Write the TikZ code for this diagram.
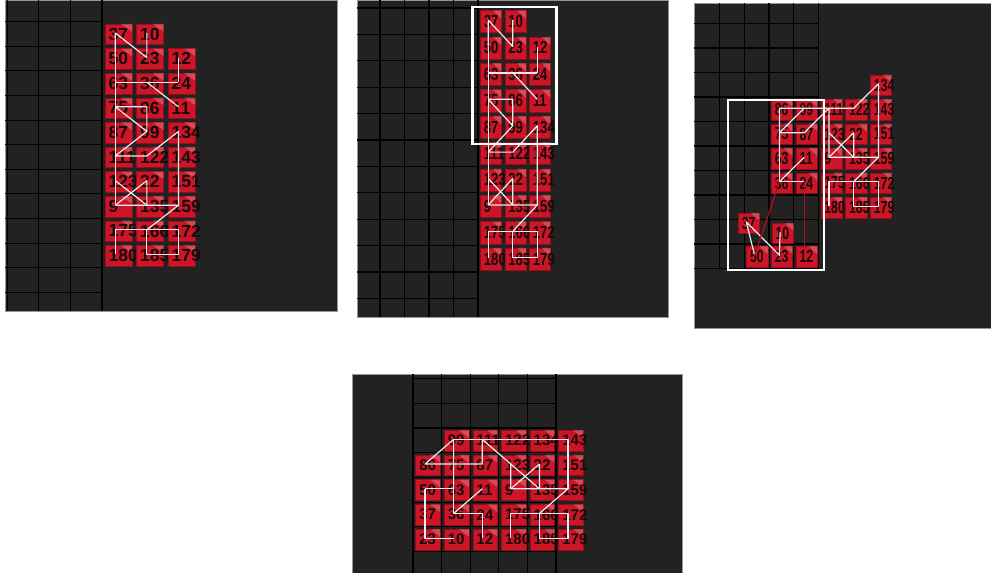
\documentclass[tikz,border=0pt]{standalone}
\usepackage{fontspec}
\setmainfont{Liberation Sans}
\usepackage{graphicx}
\usetikzlibrary{positioning}
\definecolor{PanelGray}{RGB}{34,34,34}
\definecolor{FrameGray}{RGB}{150,150,150}
\definecolor{CellRed}{RGB}{204,22,40}
\definecolor{CellEdge}{RGB}{150,12,26}
\definecolor{NumBlack}{RGB}{22,10,10}
\definecolor{LinkWhite}{RGB}{236,236,236}
\definecolor{LinkRed}{RGB}{176,14,24}

\tikzset{
  panel/.style={fill=PanelGray, draw=FrameGray, line width=0.8pt},
  gridline/.style={draw=black, line width=1.1pt},
  gridedge/.style={draw=black, line width=1.7pt},
  cell/.style={fill=CellRed, draw=CellEdge, line width=0.4pt},
  gloss/.style={fill=white, fill opacity=0.22},
  num/.style={anchor=west, inner sep=0pt, xshift=3.5pt, text=NumBlack,
    font=\bfseries\fontsize{17.5}{18}\selectfont},
  link/.style={draw=LinkWhite, line width=1.2pt, line join=round},
  redlink/.style={draw=LinkRed, line width=1.3pt},
  selbox/.style={draw=white, line width=2.8pt}
}

\newcommand{\numsx}{1}
\newcommand{\numsy}{1}

% red cells with their numbers, #1 = panel prefix, #2 = col/row/value list
\newcommand{\drawcells}[2]{%
  \foreach \col/\row/\val in {#2} {
    \fill[cell] (\col+0.09,\row+0.09) rectangle (\col+0.95,\row+0.93);
    \fill[gloss] (\col+0.6,\row+0.09) -- (\col+0.95,\row+0.09) -- (\col+0.95,\row+0.4) -- cycle;
    \node[num] (#1-t\val) at (\col+0.09,\row+0.51) {\scalebox{\numsx}[\numsy]{\val}};
    \coordinate (#1-\val) at (\col+0.42,\row+0.46);
  }%
}

% white links shared by all panels
\newcommand{\drawlinks}[1]{%
  \draw[link] (#1-10) -- (#1-23) -- (#1-37) -- (#1-50);
  \draw[link] (#1-63) -- (#1-75) -- (#1-87) -- (#1-111) -- (#1-123) -- (#1-9);
  \draw[link] (#1-63) -- (#1-36) -- (#1-24);
  \draw[link] (#1-36) -- (#1-11);
  \draw[link] (#1-75) -- (#1-86) -- (#1-99) -- (#1-75);
  \draw[link] (#1-99) -- (#1-111) -- (#1-122) -- (#1-134) -- (#1-143) -- (#1-151) -- (#1-159);
  \draw[link] (#1-123) -- (#1-135);
  \draw[link] (#1-9) -- (#1-22) -- (#1-135);
  \draw[link] (#1-9) -- (#1-135) -- (#1-159) -- (#1-166);
  \draw[link] (#1-180) -- (#1-175) -- (#1-166) -- (#1-172) -- (#1-179) -- (#1-185) -- (#1-166);
}

\begin{document}
\begin{tikzpicture}[x=1pt, y=-1pt]
  \useasboundingbox (0,0) rectangle (991,573);
  \fill[white] (0,0) rectangle (991,573);

  % Panel 1
  \fill[panel] (5,0) rectangle (337,311);
  \begin{scope}[shift={(102,21.7)}, x=31.6pt, y=-24.6pt]
    \foreach \k in {0,...,11} \draw[gridline] (-3.07,\k) -- (0,\k);
    \foreach \k in {-3,-2,-1} \draw[gridline] (\k,-0.88) -- (\k,11.76);
    \draw[gridedge] (0,-0.88) -- (0,11.76);
    \drawcells{p1}{0/0/37, 1/0/10, 0/1/50, 1/1/23, 2/1/12, 0/2/63, 1/2/36, 2/2/24,
      0/3/75, 1/3/86, 2/3/11, 0/4/87, 1/4/99, 2/4/134, 0/5/111, 1/5/122, 2/5/143,
      0/6/123, 1/6/22, 2/6/151, 0/7/9, 1/7/135, 2/7/159, 0/8/175, 1/8/166, 2/8/172,
      0/9/180, 1/9/185, 2/9/179}
    \drawlinks{p1}
    \draw[link] (p1-50) -- (p1-63);
    \draw[link] (p1-12) -- (p1-24);
  \end{scope}

  % Panel 2
  \fill[panel] (357,0) rectangle (668,317);
  \begin{scope}[shift={(478,8)}, x=24.5pt, y=-26.4pt]
    \renewcommand{\numsx}{0.75}
    \foreach \k in {0,...,11} \draw[gridline] (-4.94,\k) -- (0,\k);
    \foreach \k in {-4,...,-1} \draw[gridline] (\k,-0.3) -- (\k,11.7);
    \draw[gridedge] (0,-0.3) -- (0,11.7);
    \drawcells{p2}{0/0/37, 1/0/10, 0/1/50, 1/1/23, 2/1/12, 0/2/63, 1/2/36, 2/2/24,
      0/3/75, 1/3/86, 2/3/11, 0/4/87, 1/4/99, 2/4/134, 0/5/111, 1/5/122, 2/5/143,
      0/6/123, 1/6/22, 2/6/151, 0/7/9, 1/7/135, 2/7/159, 0/8/175, 1/8/166, 2/8/172,
      0/9/180, 1/9/185, 2/9/179}
    \drawlinks{p2}
    \draw[link] (p2-50) -- (p2-63);
    \draw[link] (p2-12) -- (p2-24);
    % selection
    \draw[selbox] (-0.24,-0.04) rectangle (3.22,5.15);
  \end{scope}

  % Panel 3
  \fill[panel] (694,3) rectangle (991,328);
  \begin{scope}[shift={(769,97)}, x=24.75pt, y=-24.5pt]
    \renewcommand{\numsx}{0.7}
    \foreach \k in {-3,...,7} \draw[gridline] (-3.03,\k) -- (2,\k);
    \foreach \k in {-2,...,1} \draw[gridline] (\k,-3.84) -- (\k,7);
    \draw[gridedge] (2,-3.84) -- (2,7);
    \drawcells{p3}{4/-1/134, 0/0/86, 1/0/99, 2/0/111, 3/0/122, 4/0/143,
      0/1/75, 1/1/87, 2/1/123, 3/1/22, 4/1/151, 0/2/63, 1/2/11, 2/2/9, 3/2/135, 4/2/159,
      0/3/36, 1/3/24, 2/3/175, 3/3/166, 4/3/172, 2/4/180, 3/4/185, 4/4/179,
      -1.34/4.64/37, 0.03/5.05/10, -1/6/50, 0/6/23, 1/6/12}
    \drawlinks{p3}
    \draw[redlink] (p3-50) -- (p3-36);
    \draw[redlink] (p3-12) -- (p3-24);
    % selection
    \draw[selbox] (-1.66,0.12) rectangle (2.22,7.06);
  \end{scope}

  % Panel 4
  \fill[panel] (352,374) rectangle (682,573);
  \begin{scope}[shift={(413,428)}, x=28.6pt, y=-24.7pt]
    \renewcommand{\numsx}{0.86}
    \renewcommand{\numsy}{0.88}
    \foreach \k in {-2,...,5} \draw[gridline] (0,\k) -- (5,\k);
    \foreach \k in {1,...,4} \draw[gridline] (\k,-2.19) -- (\k,5.87);
    \draw[gridedge] (0,-2.19) -- (0,5.87);
    \draw[gridedge] (5,-2.19) -- (5,5.87);
    \drawcells{p4}{1/0/99, 2/0/111, 3/0/122, 4/0/134, 5/0/143,
      0/1/86, 1/1/75, 2/1/87, 3/1/123, 4/1/22, 5/1/151,
      0/2/50, 1/2/63, 2/2/11, 3/2/9, 4/2/135, 5/2/159,
      0/3/37, 1/3/36, 2/3/24, 3/3/175, 4/3/166, 5/3/172,
      0/4/23, 1/4/10, 2/4/12, 3/4/180, 4/4/185, 5/4/179}
    \drawlinks{p4}
    \draw[link] (p4-50) -- (p4-63);
    \draw[link] (p4-12) -- (p4-24);
  \end{scope}
\end{tikzpicture}
\end{document}
